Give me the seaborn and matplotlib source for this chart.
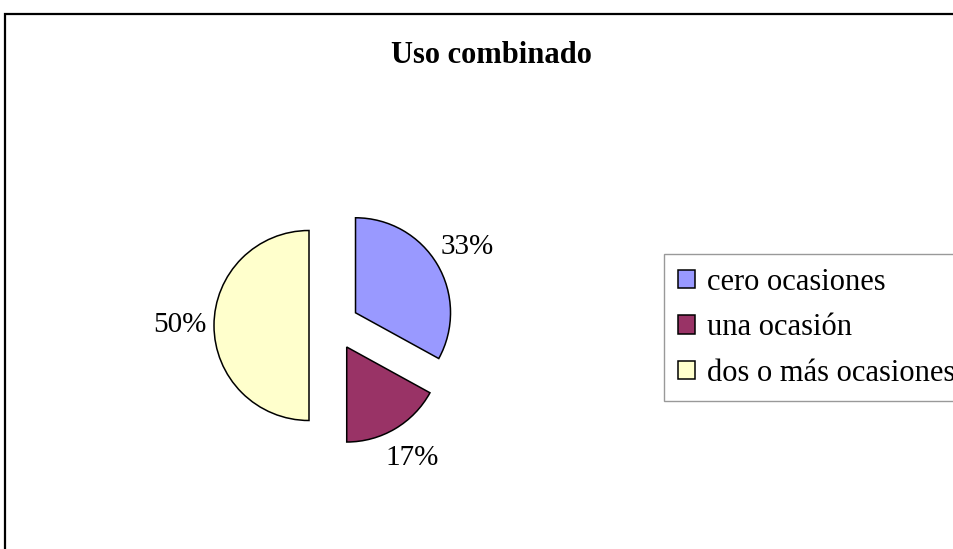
import matplotlib
matplotlib.use("Agg")
import matplotlib.pyplot as plt
import seaborn as sns

# data
categories = ["cero ocasiones", "una ocasión", "dos o más ocasiones"]
shares = [33, 17, 50]
colors = ["#9999FF", "#993366", "#FFFFCC"]

sns.set_style("white")
plt.rcParams["font.family"] = ["Liberation Serif", "DejaVu Serif"]
plt.rcParams["text.color"] = "black"

W, H = 954, 549
fig = plt.figure(figsize=(W / 100, H / 100), dpi=100)
ax = fig.add_axes([0, 0, 1, 1])

# pie in pixel space (y measured from bottom)
r = 95
wedges, texts, autotexts = ax.pie(
    shares,
    colors=colors,
    startangle=90,
    counterclock=False,
    explode=[25, 25, 25],
    radius=r,
    center=(334, H - 325.5),
    autopct="%.0f%%",
    pctdistance=1.36,
    wedgeprops=dict(edgecolor="black", linewidth=1.1),
    textprops=dict(fontsize=21, color="black"),
    frame=False,
)
ax.set_xlim(0, W)
ax.set_ylim(0, H)
ax.set_aspect("auto")
ax.axis("off")

# outer chart frame (cut off on right and bottom like the original)
frame = plt.Rectangle((5 / W, -0.05), 1.1, (H - 14) / H + 0.05,
                      transform=fig.transFigure, fill=False,
                      edgecolor="black", linewidth=1.6, zorder=0)
fig.add_artist(frame)

fig.text(491 / W, 1 - 63 / H, "Uso combinado", ha="center", va="baseline",
         fontsize=22, fontweight="bold", color="black")

leg = ax.legend(wedges, categories, loc="upper left",
                bbox_to_anchor=(664 / W, 1 - 254 / H),
                bbox_transform=fig.transFigure, borderaxespad=0,
                fontsize=22, frameon=True, fancybox=False,
                edgecolor="#808080", handlelength=0.55, handleheight=0.55,
                handletextpad=0.4, labelspacing=0.54, borderpad=0.45)
leg.get_frame().set_linewidth(1.0)
for t in leg.get_texts():
    t.set_color("black")
for h in leg.legend_handles:
    h.set_linewidth(1.1)

fig.savefig("out.png", dpi=100)
